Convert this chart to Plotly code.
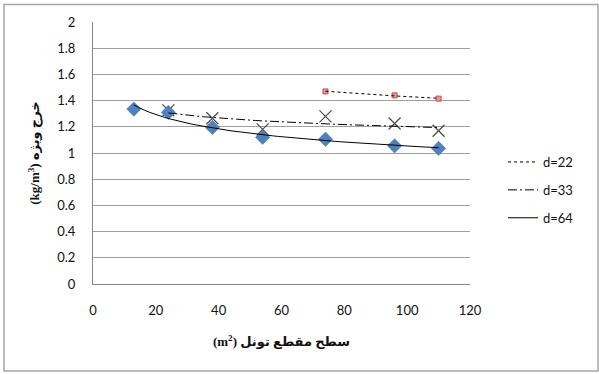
import numpy as np
import plotly.graph_objects as go

# ---- data ----
x_d22 = [74, 96, 110]
y_d22 = [1.47, 1.44, 1.415]

x_d33 = [24, 38, 54, 74, 96, 110]
y_d33 = [1.325, 1.265, 1.18, 1.28, 1.225, 1.17]

x_d64 = [13, 24, 38, 54, 74, 96, 110]
y_d64 = [1.335, 1.31, 1.195, 1.12, 1.105, 1.055, 1.035]

series_names = ["d=22", "d=33", "d=64"]
x_ticks = [0, 20, 40, 60, 80, 100, 120]
y_ticks = [0, 0.2, 0.4, 0.6, 0.8, 1, 1.2, 1.4, 1.6, 1.8, 2]

# written so the unit appears on the left, as in the (RTL) original
x_title = "(m<sup>2</sup>) سطح مقطع تونل"
y_title = "(kg/m<sup>3</sup>) خرج ویژه"


def power_trend(xs, ys, n=60):
    """Excel-style power trendline (least squares on log-log)."""
    b, a = np.polyfit(np.log(xs), np.log(ys), 1)
    xx = np.linspace(min(xs), max(xs), n)
    return xx, np.exp(a) * xx ** b


# ---- figure geometry (pixels) ----
W, H = 599, 374
L, R, T, B = 93, 470, 22, 284
pw, ph = R - L, B - T


def px(x):
    return (x - L) / pw


def py(y):
    return (B - y) / ph


fig = go.Figure()

# markers
fig.add_trace(go.Scatter(
    x=x_d22, y=y_d22, mode="markers", showlegend=False, hoverinfo="skip",
    marker=dict(symbol="square", size=5, color="#E59A9A",
                line=dict(color="#C0504D", width=1))))
fig.add_trace(go.Scatter(
    x=x_d33, y=y_d33, mode="markers", showlegend=False, hoverinfo="skip",
    marker=dict(symbol="x-thin-open", size=12, color="#4a4a4a",
                line=dict(color="#4a4a4a", width=1.2))))
fig.add_trace(go.Scatter(
    x=x_d64, y=y_d64, mode="markers", showlegend=False, hoverinfo="skip",
    marker=dict(symbol="diamond", size=11, color="#4F81BD",
                line=dict(color="#3C6DA8", width=0.5))))

# trendlines (legend entries)
dashes = ["3px,3px", "9px,3px,2px,3px", "solid"]
for i, (xs, ys) in enumerate([(x_d22, y_d22), (x_d33, y_d33), (x_d64, y_d64)]):
    tx, ty = power_trend(xs, ys)
    fig.add_trace(go.Scatter(
        x=tx, y=ty, mode="lines", name=series_names[i],
        legendgroup=series_names[i],
        line=dict(color="black", width=1, dash=dashes[i])))

tick_font = dict(family="Lato, Liberation Sans, sans-serif", size=13, color="#111")
title_font = dict(family="Liberation Serif, DejaVu Sans, serif", size=13, color="#111")

fig.update_layout(
    width=W, height=H,
    margin=dict(l=L, r=W - R, t=T, b=H - B, autoexpand=False),
    paper_bgcolor="white", plot_bgcolor="white",
    showlegend=True,
    legend=dict(x=px(503), y=py(147), xanchor="left", yanchor="top",
                font=dict(family="Lato, Liberation Sans, sans-serif", size=13, color="#111"),
                traceorder="grouped", tracegroupgap=8, bgcolor="rgba(0,0,0,0)"),
    shapes=[dict(type="rect", xref="paper", yref="paper",
                 x0=px(4), x1=px(598), y0=py(371), y1=py(4.5),
                 line=dict(color="#A6A6A6", width=1.5), layer="below")],
)

fig.update_xaxes(
    range=[0, 120], tickvals=x_ticks, ticktext=[str(v) for v in x_ticks],
    showgrid=False, zeroline=False, showline=True, linecolor="#868686", linewidth=1,
    ticks="", ticklabelstandoff=14, tickfont=tick_font,
    title=dict(text=x_title, font=dict(title_font, weight="bold"), standoff=20),
    fixedrange=True)

fig.update_yaxes(
    range=[0, 2], tickvals=y_ticks, ticktext=[f"{v:g}" for v in y_ticks],
    showgrid=True, gridcolor="#A0A0A0", gridwidth=1, zeroline=False,
    showline=True, linecolor="#868686", linewidth=1,
    ticks="", ticklabelstandoff=14, tickfont=tick_font,
    title=dict(text=y_title, font=dict(title_font, weight="bold"), standoff=14),
    fixedrange=True)

fig.write_html("out.html", config=dict(displayModeBar=False))
